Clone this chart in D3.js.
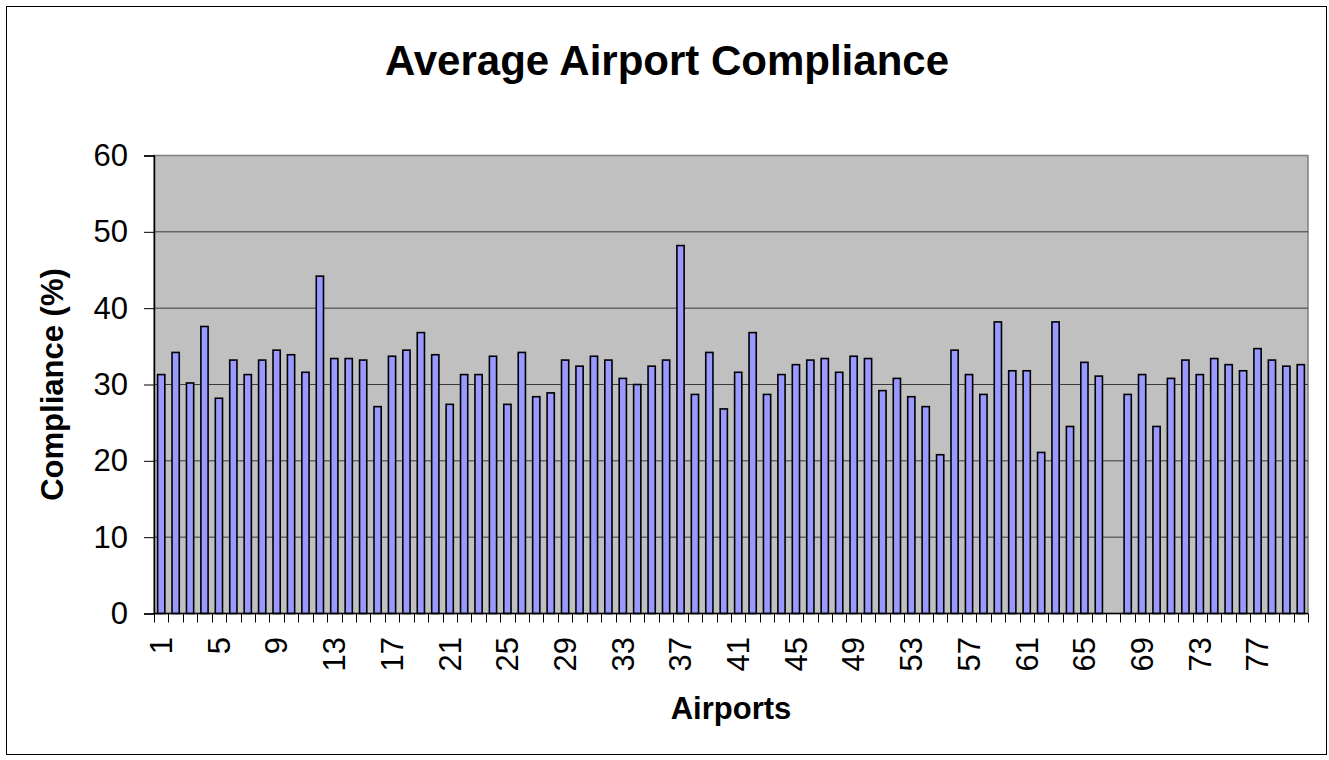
<!DOCTYPE html>
<html>
<head>
<meta charset="utf-8">
<script src="https://cdn.jsdelivr.net/npm/d3@7"></script>
<style>
  body { margin: 0; background: #fff; }
  text { font-family: "Liberation Sans", Arial, sans-serif; fill: #000; }
</style>
</head>
<body>
<svg id="chart" width="1329" height="760"></svg>
<script>
// average compliance (%) per airport, airport 67 has no value
const compliance = [
  31.3, 34.2, 30.2, 37.6, 28.2, 33.2, 31.3, 33.2, 34.5, 33.9,
  31.6, 44.2, 33.4, 33.4, 33.2, 27.1, 33.7, 34.5, 36.8, 33.9,
  27.4, 31.3, 31.3, 33.7, 27.4, 34.2, 28.4, 28.9, 33.2, 32.4,
  33.7, 33.2, 30.8, 30.0, 32.4, 33.2, 48.2, 28.7, 34.2, 26.8,
  31.6, 36.8, 28.7, 31.3, 32.6, 33.2, 33.4, 31.6, 33.7, 33.4,
  29.2, 30.8, 28.4, 27.1, 20.8, 34.5, 31.3, 28.7, 38.2, 31.8,
  31.8, 21.1, 38.2, 24.5, 32.9, 31.1, null, 28.7, 31.3, 24.5,
  30.8, 33.2, 31.3, 33.4, 32.6, 31.8, 34.7, 33.2, 32.4, 32.6
];
const airports = compliance.map((_, i) => String(i + 1));
const xTickLabels = ["1", "5", "9", "13", "17", "21", "25", "29", "33", "37",
  "41", "45", "49", "53", "57", "61", "65", "69", "73", "77"];
const yTicks = [0, 10, 20, 30, 40, 50, 60];

const svg = d3.select("#chart");
const plot = { left: 154, right: 1308, top: 155.5, bottom: 613.5 };

const x = d3.scaleBand().domain(airports).range([plot.left, plot.right]);
const y = d3.scaleLinear().domain([0, 60]).range([plot.bottom, plot.top]);

// outer chart border
svg.append("rect")
  .attr("x", 6.5).attr("y", 6.5)
  .attr("width", 1320).attr("height", 748)
  .attr("fill", "#fff")
  .attr("stroke", "#000");

svg.append("text")
  .attr("x", 667).attr("y", 75)
  .attr("text-anchor", "middle")
  .attr("font-size", 42)
  .attr("font-weight", "bold")
  .text("Average Airport Compliance");

// plot area
svg.append("rect")
  .attr("x", plot.left).attr("y", plot.top)
  .attr("width", plot.right - plot.left).attr("height", plot.bottom - plot.top)
  .attr("fill", "#c0c0c0")
  .attr("stroke", "#808080")
  .attr("stroke-width", 1.5);

svg.append("g")
  .selectAll("line")
  .data(yTicks.filter(d => d > 0 && d < 60))
  .enter()
  .append("line")
  .attr("x1", plot.left).attr("x2", plot.right)
  .attr("y1", d => y(d)).attr("y2", d => y(d))
  .attr("stroke", "#3a3a3a")
  .attr("stroke-width", 1);

// bars sit in the middle half of each category
svg.append("g")
  .selectAll("rect")
  .data(airports.filter((d, i) => compliance[i] !== null))
  .enter()
  .append("rect")
  .attr("x", d => x(d) + x.bandwidth() * 0.25)
  .attr("width", x.bandwidth() * 0.5)
  .attr("y", d => y(compliance[+d - 1]))
  .attr("height", d => y(0) - y(compliance[+d - 1]))
  .attr("fill", "#9999ff")
  .attr("stroke", "#000")
  .attr("stroke-width", 1.6);

// y axis
const yAxis = svg.append("g")
  .attr("transform", `translate(${plot.left},0)`)
  .call(d3.axisLeft(y).tickValues(yTicks).tickSize(10).tickPadding(16));
yAxis.select(".domain").attr("stroke", "#000").attr("stroke-width", 1.5);
yAxis.selectAll(".tick line").attr("stroke", "#000");
yAxis.selectAll("text")
  .attr("font-size", 31)
  .attr("font-family", "Liberation Sans, Arial, sans-serif");

// x axis: ticks between categories, labels every fourth airport
const xAxis = svg.append("g");
xAxis.append("line")
  .attr("x1", plot.left).attr("x2", plot.right)
  .attr("y1", plot.bottom).attr("y2", plot.bottom)
  .attr("stroke", "#000")
  .attr("stroke-width", 1.5);

xAxis.selectAll(".tick")
  .data(airports.map(d => x(d)).concat([x.range()[1]]))
  .enter()
  .append("line")
  .attr("class", "tick")
  .attr("x1", d => Math.round(d) + 0.5).attr("x2", d => Math.round(d) + 0.5)
  .attr("y1", plot.bottom).attr("y2", plot.bottom + 9)
  .attr("stroke", "#000");

xAxis.selectAll("text")
  .data(xTickLabels)
  .enter()
  .append("text")
  .attr("transform", d => `translate(${x(d) + x.bandwidth() / 2},637) rotate(-90)`)
  .attr("text-anchor", "end")
  .attr("dy", "0.35em")
  .attr("font-size", 31)
  .text(d => d);

svg.append("text")
  .attr("x", (plot.left + plot.right) / 2).attr("y", 719)
  .attr("text-anchor", "middle")
  .attr("font-size", 31)
  .attr("font-weight", "bold")
  .text("Airports");

svg.append("text")
  .attr("transform", `translate(63,${(plot.top + plot.bottom) / 2}) rotate(-90)`)
  .attr("text-anchor", "middle")
  .attr("font-size", 31)
  .attr("font-weight", "bold")
  .text("Compliance (%)");
</script>
</body>
</html>
